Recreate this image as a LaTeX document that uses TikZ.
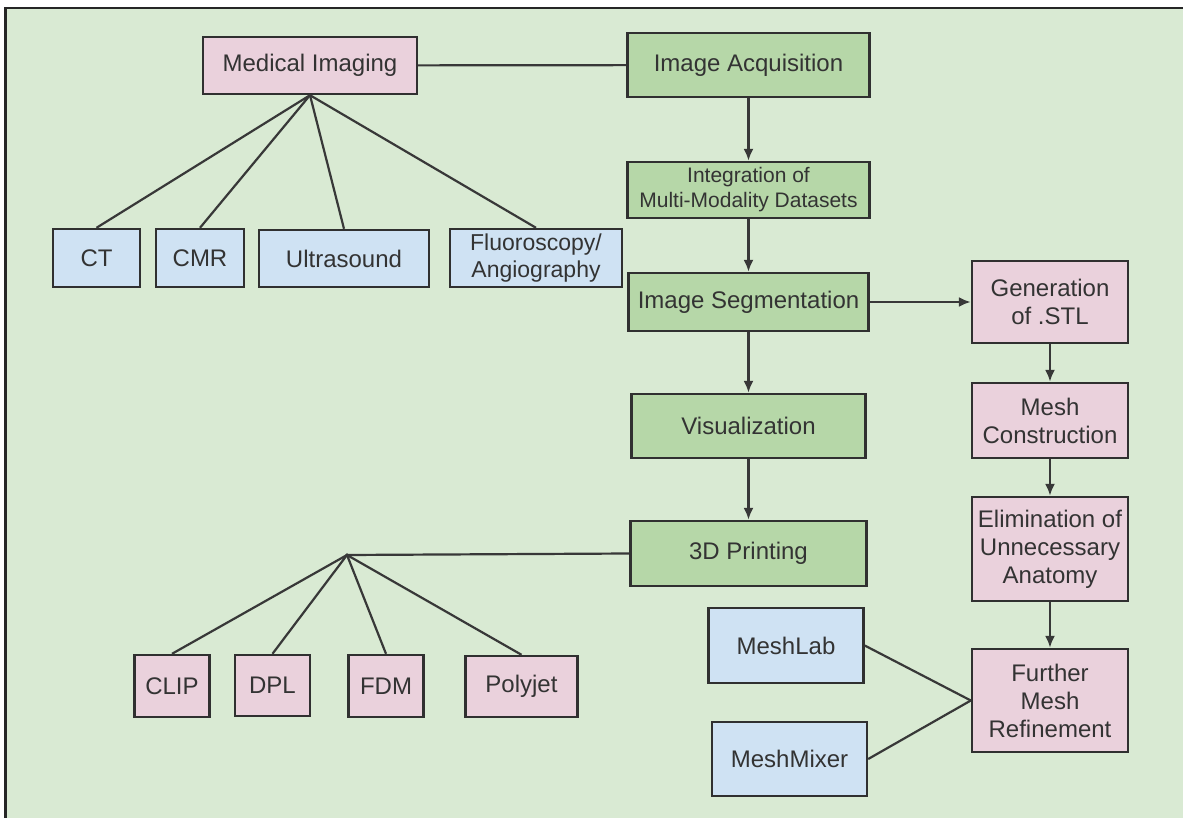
\documentclass[tikz,border=0pt]{standalone}
\usepackage{fontspec}
\setmainfont{Liberation Sans}
\usetikzlibrary{calc,arrows.meta}
\definecolor{bggreen}{HTML}{D9EAD3}
\definecolor{boxpink}{HTML}{EAD1DC}
\definecolor{boxblue}{HTML}{CFE2F3}
\definecolor{boxgreen}{HTML}{B6D7A8}
\definecolor{boxline}{HTML}{303030}
\definecolor{linegrey}{HTML}{383838}
\definecolor{txtgrey}{HTML}{333333}
\begin{document}
\begin{tikzpicture}[x=0.5pt,y=-0.5pt,
	wh/.style n args={2}{minimum width=#1*0.5pt,minimum height=#2*0.5pt},
	box/.style={draw=boxline,line width=1.2pt,align=center,inner sep=1pt,text=txtgrey,font=\fontsize{12}{14}\selectfont},
	pinkbox/.style={box,fill=boxpink},
	bluebox/.style={box,fill=boxblue},
	greenbox/.style={box,fill=boxgreen},
	link/.style={draw=linegrey,line width=1.1pt},
	flow/.style={link,-{Latex[length=6pt,width=5pt]}}]
	\useasboundingbox (0,0) rectangle (1183,818);
	\fill[white] (0,0) rectangle (1183,818);
	\fill[bggreen] (5.5,8) rectangle (1183,818);
	\draw[line width=1.3pt,black!85] (5.5,818) -- (5.5,8) -- (1183,8);
	% imaging branch
	\node[pinkbox,wh={214}{57}] (medimg) at (310,65.5) {Medical Imaging};
	\node[bluebox,wh={87}{58}] (ct) at (96.5,258) {CT};
	\node[bluebox,wh={88}{58}] (cmr) at (200,258) {CMR};
	\node[bluebox,wh={170}{57}] (us) at (344,258.5) {Ultrasound};
	\node[bluebox,wh={172}{58},font=\fontsize{11.5}{13.5}\selectfont] (fluoro) at (536,258) {Fluoroscopy/\\Angiography};
	% main flow
	\node[greenbox,wh={242}{64}] (acq) at (748.5,65) {Image Acquisition};
	\node[greenbox,wh={242}{56},font=\fontsize{10.5}{12.5}\selectfont] (integ) at (748.5,190) {Integration of\\Multi-Modality Datasets};
	\node[greenbox,wh={240}{58}] (seg) at (748.5,302) {Image Segmentation};
	\node[greenbox,wh={234}{64}] (vis) at (748.5,426) {Visualization};
	\node[greenbox,wh={236}{65}] (print) at (748.5,553.5) {3D Printing};
	% mesh branch
	\node[pinkbox,wh={156}{82}] (stl) at (1050,302) {Generation\\of .STL};
	\node[pinkbox,wh={156}{75}] (mesh) at (1050,420.5) {Mesh\\Construction};
	\node[pinkbox,wh={156}{104}] (elim) at (1050,549) {Elimination of\\Unnecessary\\Anatomy};
	\node[pinkbox,wh={156}{103}] (refine) at (1050,700.5) {Further\\Mesh\\Refinement};
	\node[bluebox,wh={155}{75}] (meshlab) at (786,645.5) {MeshLab};
	\node[bluebox,wh={155}{74}] (meshmix) at (789.5,759) {MeshMixer};
	% printing branch
	\node[pinkbox,wh={75}{62}] (clip) at (172,686) {CLIP};
	\node[pinkbox,wh={75}{61}] (dpl) at (272.5,685.5) {DPL};
	\node[pinkbox,wh={75}{62}] (fdm) at (386,686) {FDM};
	\node[pinkbox,wh={112}{61}] (polyjet) at (521.5,686.5) {Polyjet};
	\coordinate (hub) at (347,555);
	% connectors
	\draw[link] (medimg) -- (acq);
	\foreach \k in {ct,cmr,us,fluoro}
		\draw[link] (medimg.south) -- (\k.north);
	\draw[flow] (acq) -- (integ);
	\draw[flow] (integ) -- (seg);
	\draw[flow] (seg) -- (vis);
	\draw[flow] (vis) -- (print);
	\draw[flow] (seg) -- (stl);
	\draw[flow] (stl) -- (mesh);
	\draw[flow] (mesh) -- (elim);
	\draw[flow] (elim) -- (refine);
	\draw[link] (meshlab.east) -- (refine.west);
	\draw[link] (meshmix.east) -- (refine.west);
	\draw[link] (print.west) -- (hub);
	\foreach \k in {clip,dpl,fdm,polyjet}
		\draw[link] (hub) -- (\k.north);
	\fill[linegrey] (hub) circle (1.8);
\end{tikzpicture}
\end{document}
